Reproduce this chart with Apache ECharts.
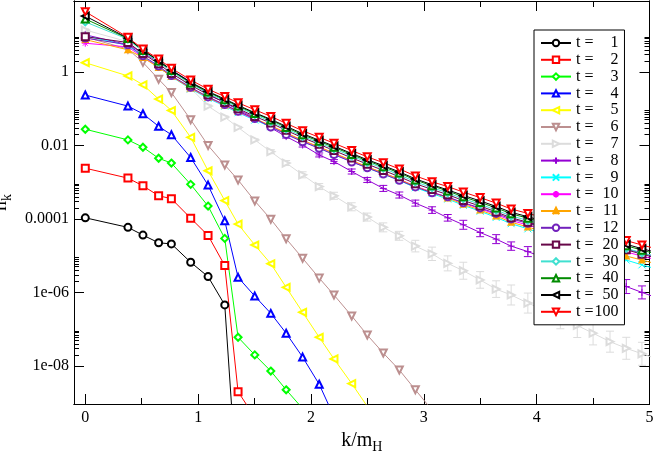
<!DOCTYPE html>
<html>
<head>
<meta charset="utf-8">
<script src="https://cdn.jsdelivr.net/npm/echarts@6/dist/echarts.min.js"></script>
<style>
html, body { margin: 0; padding: 0; background: #fff; }
#chart { width: 654px; height: 452px; }
</style>
</head>
<body>
<div id="chart"></div>
<script>
// momentum bins k/m_H (shared by all series)
var kVals = [0, 0.378, 0.511, 0.65, 0.763, 0.934, 1.088, 1.236, 1.354, 1.502, 1.644, 1.78, 1.926, 2.073, 2.204,
    2.361, 2.499, 2.641, 2.783, 2.925, 3.073, 3.212, 3.35, 3.499, 3.641, 3.774, 3.922, 4.07, 4.21, 4.36,
    4.5, 4.65, 4.794, 4.933, 5.07];

// log10(n_k), one array per time
var logN_t1 = [-3.97, -4.23, -4.44, -4.65, -4.68, -5.18, -5.57, -6.34, -11.7];
var logN_t2 = [-2.62, -2.89, -3.10, -3.37, -3.45, -3.98, -4.45, -5.27, -8.70, -9.4];
var logN_t3 = [-1.56, -1.85, -2.05, -2.35, -2.48, -3.06, -3.65, -4.53, -7.22, -7.70, -8.14, -8.65, -9.16];
var logN_t4 = [-0.63, -0.93, -1.14, -1.48, -1.71, -2.33, -3.08, -4.05, -5.59, -6.10, -6.57, -7.11, -7.76, -8.50, -9.38];
var logN_t5 = [0.25, -0.11, -0.35, -0.74, -1.05, -1.78, -2.69, -3.50, -4.14, -4.71, -5.22, -5.86, -6.54, -7.22,
    -7.81, -8.48, -9.1];
var logN_t6 = [0.95, 0.62, 0.26, -0.20, -0.56, -1.30, -2.00, -2.53, -2.94, -3.51, -4.01, -4.54, -5.07, -5.61,
    -6.07, -6.64, -7.16, -7.65, -8.11, -8.65, -9.2];
var logN_t7 = [1.14, 0.82, 0.60, 0.33, 0.05, -0.44, -0.93, -1.23, -1.51, -1.85, -2.17, -2.48, -2.80, -3.12,
    -3.37, -3.67, -3.95, -4.23, -4.46, -4.74, -4.95, -5.21, -5.41, -5.66, -5.91, -6.07, -6.29, -6.48, -6.69,
    -6.90, -7.11, -7.34, -7.52, -7.67, -7.81];
var logN_t8 = [1.01, 0.74, 0.52, 0.27, 0.05, -0.27, -0.60, -0.84, -1.03, -1.25, -1.52, -1.76, -1.99, -2.26,
    -2.44, -2.71, -2.94, -3.17, -3.35, -3.57, -3.76, -3.97, -4.16, -4.37, -4.55, -4.74, -4.89, -5.06, -5.22,
    -5.39, -5.55, -5.69, -5.84, -6.00, -6.15];
var logN_t9 = [0.98, 0.72, 0.42, 0.13, -0.13, -0.46, -0.72, -0.93, -1.11, -1.31, -1.49, -1.69, -1.89, -2.07,
    -2.24, -2.44, -2.61, -2.78, -2.95, -3.15, -3.31, -3.46, -3.63, -3.79, -3.96, -4.13, -4.27, -4.42, -4.58,
    -4.73, -4.86, -4.99, -5.12, -5.25, -5.37];
var logN_t10 = [0.78, 0.68, 0.40, 0.13, -0.12, -0.44, -0.70, -0.91, -1.09, -1.29, -1.47, -1.67, -1.87, -2.05,
    -2.22, -2.42, -2.59, -2.75, -2.92, -3.11, -3.27, -3.41, -3.57, -3.72, -3.88, -4.04, -4.17, -4.30, -4.44,
    -4.58, -4.69, -4.80, -4.90, -5.01, -5.12];
var logN_t11 = [0.88, 0.60, 0.39, 0.12, -0.12, -0.44, -0.69, -0.90, -1.07, -1.27, -1.46, -1.66, -1.86, -2.04,
    -2.21, -2.41, -2.58, -2.75, -2.92, -3.12, -3.28, -3.43, -3.60, -3.76, -3.92, -4.09, -4.22, -4.36, -4.51,
    -4.66, -4.78, -4.91, -5.01, -5.12, -5.23];
var logN_t12 = [0.92, 0.74, 0.44, 0.16, -0.10, -0.42, -0.68, -0.89, -1.07, -1.27, -1.50, -1.70, -1.90, -2.08,
    -2.25, -2.45, -2.61, -2.78, -2.95, -3.13, -3.29, -3.40, -3.56, -3.70, -3.85, -4.00, -4.12, -4.24, -4.37,
    -4.50, -4.60, -4.71, -4.82, -4.93, -5.04];
var logN_t20 = [0.96, 0.80, 0.50, 0.22, -0.04, -0.36, -0.62, -0.83, -1.00, -1.21, -1.39, -1.59, -1.79, -1.97,
    -2.14, -2.34, -2.51, -2.68, -2.85, -3.04, -3.20, -3.34, -3.50, -3.65, -3.81, -3.97, -4.09, -4.22, -4.36,
    -4.50, -4.61, -4.73, -4.84, -4.96, -5.07];
var logN_t30 = [1.36, 0.89, 0.56, 0.27, 0.01, -0.32, -0.58, -0.79, -0.96, -1.16, -1.35, -1.55, -1.75, -1.93,
    -2.09, -2.29, -2.46, -2.62, -2.80, -2.99, -3.15, -3.29, -3.45, -3.60, -3.76, -3.92, -4.04, -4.17, -4.31,
    -4.45, -4.56, -4.69, -4.80, -4.92, -5.03];
var logN_t40 = [1.44, 0.91, 0.58, 0.30, 0.04, -0.30, -0.55, -0.76, -0.93, -1.13, -1.31, -1.51, -1.71, -1.89,
    -2.05, -2.25, -2.42, -2.58, -2.75, -2.94, -3.10, -3.24, -3.40, -3.55, -3.70, -3.86, -3.98, -4.11, -4.25,
    -4.39, -4.49, -4.62, -4.73, -4.85, -4.96];
var logN_t50 = [1.52, 0.92, 0.59, 0.31, 0.05, -0.28, -0.53, -0.74, -0.91, -1.11, -1.29, -1.48, -1.68, -1.86,
    -2.02, -2.22, -2.39, -2.55, -2.72, -2.91, -3.07, -3.21, -3.36, -3.51, -3.66, -3.82, -3.94, -4.07, -4.21,
    -4.35, -4.45, -4.58, -4.69, -4.81, -4.92];
var logN_t100 = [1.64, 0.94, 0.62, 0.35, 0.10, -0.22, -0.47, -0.67, -0.84, -1.03, -1.21, -1.40, -1.60, -1.78,
    -1.94, -2.14, -2.31, -2.47, -2.64, -2.83, -2.99, -3.12, -3.27, -3.42, -3.57, -3.73, -3.85, -3.97, -4.11,
    -4.25, -4.35, -4.48, -4.59, -4.71, -4.82];

// error bar half-heights (in decades) for the two sets where they are visible
var errLog_t7 = [0.027, 0.027, 0.027, 0.027, 0.027, 0.027, 0.027, 0.027, 0.027, 0.027, 0.054, 0.068, 0.082,
    0.082, 0.095, 0.109, 0.109, 0.122, 0.122, 0.158, 0.182, 0.204, 0.231, 0.226, 0.226, 0.272, 0.272, 0.286,
    0.299, 0.327, 0.318, 0.286, 0.299, 0.313, 0.327];
var errLog_t8 = [0.019, 0.019, 0.019, 0.019, 0.019, 0.019, 0.019, 0.019, 0.019, 0.019, 0.041, 0.041, 0.054,
    0.054, 0.054, 0.068, 0.068, 0.082, 0.082, 0.082, 0.09, 0.09, 0.122, 0.114, 0.122, 0.114, 0.136, 0.14,
    0.15, 0.155, 0.16, 0.17, 0.19, 0.177, 0.19];

var tLabels = ['1', '2', '3', '4', '5', '6', '7', '8', '9', '10', '11', '12', '20', '30', '40', '50', '100'];
var seriesLogs = [logN_t1, logN_t2, logN_t3, logN_t4, logN_t5, logN_t6, logN_t7, logN_t8, logN_t9, logN_t10,
    logN_t11, logN_t12, logN_t20, logN_t30, logN_t40, logN_t50, logN_t100];

var xTickValues = [0, 1, 2, 3, 4, 5];
var xTickLabels = ['0', '1', '2', '3', '4', '5'];
var xMinorValues = [0.5, 1.5, 2.5, 3.5, 4.5];
var yTickValues = [1e-8, 1e-6, 1e-4, 1e-2, 1];
var yTickLabels = ['1e-08', '1e-06', '0.0001', '0.01', '1'];

var PLUS = 'path://M0,5L10,5M5,0L5,10';
var CROSS = 'path://M1,1L9,9M9,1L1,9';
var STAR = 'path://M0,5L10,5M5,0L5,10M1.5,1.5L8.5,8.5M8.5,1.5L1.5,8.5';
var CARET = 'path://M1,9L5,1L9,9';
var looks = [
    { c: '#000000', s: 'emptyCircle', r: 0 },
    { c: '#ff0000', s: 'emptyRect', r: 0 },
    { c: '#00ff00', s: 'emptyDiamond', r: 0 },
    { c: '#0000ff', s: 'emptyTriangle', r: 0 },
    { c: '#ffff00', s: 'emptyTriangle', r: 90 },
    { c: '#bc8f8f', s: 'emptyTriangle', r: 180 },
    { c: '#dcdcdc', s: 'emptyTriangle', r: -90 },
    { c: '#9400d3', s: PLUS, r: 0 },
    { c: '#00ffff', s: CROSS, r: 0 },
    { c: '#ff00ff', s: STAR, r: 0 },
    { c: '#ffa500', s: CARET, r: 0 },
    { c: '#7221bc', s: 'emptyCircle', r: 0 },
    { c: '#670748', s: 'emptyRect', r: 0 },
    { c: '#40e0d0', s: 'emptyDiamond', r: 0 },
    { c: '#008b00', s: 'emptyTriangle', r: 0 },
    { c: '#000000', s: 'emptyTriangle', r: 90 },
    { c: '#ff0000', s: 'emptyTriangle', r: 180 }
];

var FONT = 'Liberation Serif';
var yMin = 9.2e-10, yMax = 85;

// minor ticks: 2..9 in every labelled decade
var yMinorValues = [];
yTickValues.forEach(function (d) {
    for (var m = 2; m <= 9; m++) yMinorValues.push(m * d);
});

function renderErr(params, api) {
    var x = api.value(0);
    var lo = api.coord([x, api.value(1)]);
    var hi = api.coord([x, api.value(2)]);
    var w = 4;
    var st = { stroke: api.visual('color'), lineWidth: 1 };
    return {
        type: 'group',
        children: [
            { type: 'line', shape: { x1: lo[0], y1: lo[1], x2: hi[0], y2: hi[1] }, style: st },
            { type: 'line', shape: { x1: lo[0] - w, y1: lo[1], x2: lo[0] + w, y2: lo[1] }, style: st },
            { type: 'line', shape: { x1: hi[0] - w, y1: hi[1], x2: hi[0] + w, y2: hi[1] }, style: st }
        ]
    };
}

function errSeries(logs, errs, color) {
    return {
        name: 'err', type: 'custom', renderItem: renderErr, clip: true,
        xAxisIndex: 0, yAxisIndex: 0,
        itemStyle: { color: color },
        encode: { x: 0, y: [1, 2] },
        data: logs.map(function (v, i) {
            return [kVals[i], Math.pow(10, v - errs[i]), Math.pow(10, v + errs[i])];
        })
    };
}

var series = [];
seriesLogs.forEach(function (logs, i) {
    var lk = looks[i];
    if (tLabels[i] === '7') series.push(errSeries(logs, errLog_t7, lk.c));
    if (tLabels[i] === '8') series.push(errSeries(logs, errLog_t8, lk.c));
    series.push({
        name: 't = ' + tLabels[i],
        type: 'line',
        xAxisIndex: 0, yAxisIndex: 0,
        clip: true,
        symbol: lk.s,
        symbolRotate: lk.r,
        symbolSize: 7,
        showAllSymbol: true,
        lineStyle: { color: lk.c, width: 1 },
        itemStyle: { color: lk.c, borderColor: lk.c, borderWidth: 1 },
        data: logs.map(function (v, j) { return [kVals[j], Math.pow(10, v)]; })
    });
});

function xAxisDef(pos, ticks, len, labels) {
    return {
        type: 'value', min: -0.1, max: 5, position: pos,
        axisLine: { show: true, onZero: false, lineStyle: { color: '#000', width: 1 } },
        axisTick: { inside: true, length: len, customValues: ticks, lineStyle: { color: '#000' } },
        axisLabel: labels ? {
            customValues: xTickValues, margin: 6, color: '#000', fontFamily: FONT, fontSize: 16,
            formatter: function (v) {
                var i = xTickValues.indexOf(Math.round(v));
                return i >= 0 ? xTickLabels[i] : '';
            }
        } : { show: false },
        splitLine: { show: false }
    };
}

function yAxisDef(pos, ticks, len, labels) {
    return {
        type: 'log', logBase: 10, min: yMin, max: yMax, position: pos,
        axisLine: { show: true, onZero: false, lineStyle: { color: '#000', width: 1 } },
        axisTick: { inside: true, length: len, customValues: ticks, lineStyle: { color: '#000' } },
        axisLabel: labels ? {
            customValues: yTickValues, margin: 5, color: '#000', fontFamily: FONT, fontSize: 16,
            formatter: function (v) {
                for (var i = 0; i < yTickValues.length; i++) {
                    if (Math.abs(Math.log10(yTickValues[i]) - Math.log10(v)) < 0.01) return yTickLabels[i];
                }
                return '';
            }
        } : { show: false },
        splitLine: { show: false }
    };
}

var xMain = xAxisDef('bottom', xTickValues, 10, true);
xMain.name = '{m|k/m}{s|H}';
xMain.nameLocation = 'middle';
xMain.nameGap = 22;
xMain.nameTextStyle = {
    color: '#000', fontFamily: FONT, fontSize: 20,
    rich: { m: { fontFamily: FONT, fontSize: 20, color: '#000' },
            s: { fontFamily: FONT, fontSize: 14, color: '#000', padding: [12, 0, 0, 0] } }
};

var yMain = yAxisDef('left', yTickValues, 10, true);
yMain.name = '{m|n}{s|k}';
yMain.nameLocation = 'middle';
yMain.nameGap = 50;
yMain.nameTextStyle = {
    color: '#000', fontFamily: FONT, fontSize: 20,
    rich: { m: { fontFamily: FONT, fontSize: 20, color: '#000' },
            s: { fontFamily: FONT, fontSize: 14, color: '#000', padding: [12, 0, 0, 0] } }
};

var myChart = echarts.init(document.getElementById('chart'));
var option = {
    animation: false,
    backgroundColor: '#fff',
    grid: { left: 74, right: 4.5, top: 1, bottom: 48, containLabel: false, outerBoundsMode: 'none' },
    xAxis: [
        xMain,
        xAxisDef('top', xTickValues, 10, false),
        xAxisDef('bottom', xMinorValues, 6, false),
        xAxisDef('top', xMinorValues, 6, false)
    ],
    yAxis: [
        yMain,
        yAxisDef('right', yTickValues, 10, false),
        yAxisDef('left', yMinorValues, 5, false),
        yAxisDef('right', yMinorValues, 5, false)
    ],
    legend: {
        data: tLabels.map(function (t) { return 't = ' + t; }),
        orient: 'vertical',
        left: 534, top: 30,
        padding: [5, 6, 5, 6],
        itemGap: 0.8,
        itemWidth: 30, itemHeight: 8,
        selectedMode: false,
        backgroundColor: '#fff',
        borderColor: '#000', borderWidth: 1,
        textStyle: {
            fontFamily: FONT, fontSize: 16, color: '#000', lineHeight: 16,
            rich: {
                a: { fontFamily: FONT, fontSize: 16, color: '#000' },
                b: { fontFamily: FONT, fontSize: 16, color: '#000', width: 25, align: 'right' }
            }
        },
        formatter: function (name) {
            return '{a|t =}{b|' + name.slice(4) + '}';
        }
    },
    series: series
};
myChart.setOption(option);
</script>
</body>
</html>
